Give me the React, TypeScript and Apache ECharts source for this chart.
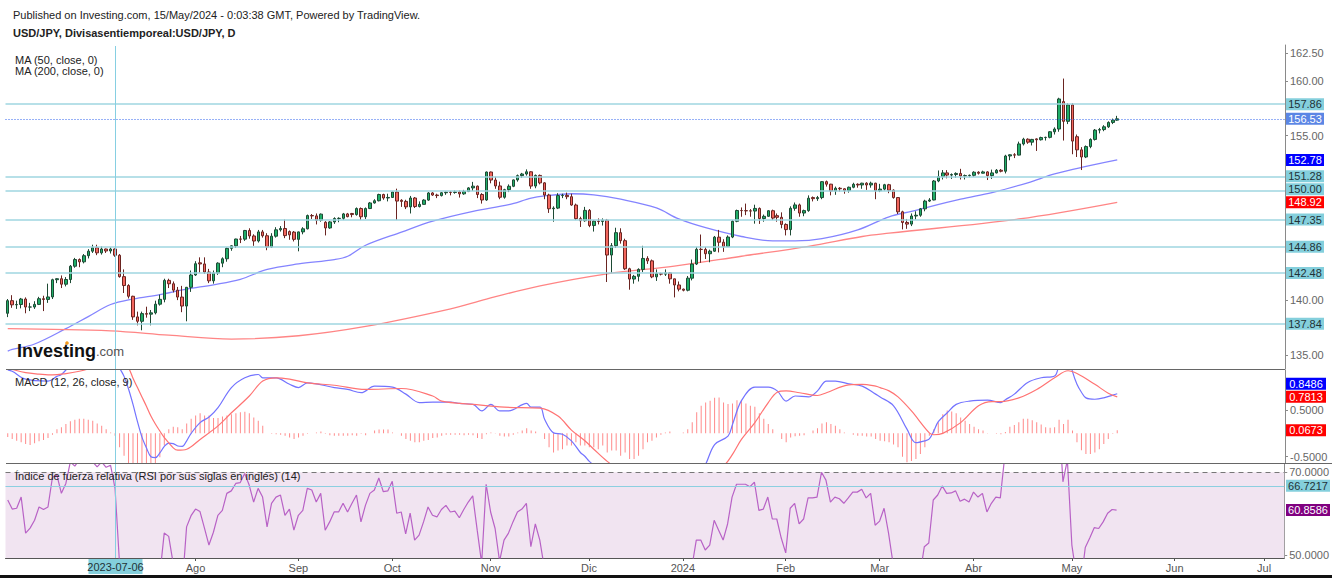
import React, { useEffect, useRef } from 'react';
import * as echarts from 'echarts';

// ---------- calendar / categories ----------
const FIRST_DAY = '2023-06-02';
const CATEGORY_COUNT = 286; // weekdays shown on the axis (data + empty future)
const MONTH_NAMES = ['2024', 'Feb', 'Mar', 'Abr', 'May', 'Jun', 'Jul', 'Ago', 'Sep', 'Oct', 'Nov', 'Dic'];
const FIRST_LABELLED = '2023-08-01';
const CROSSHAIR_DATE = '2023-07-06';

function weekdays(start: string, count: number): string[] {
  const out: string[] = [];
  const d = new Date(start + 'T00:00:00Z');
  while (out.length < count) {
    const wd = d.getUTCDay();
    if (wd !== 0 && wd !== 6) out.push(d.toISOString().slice(0, 10));
    d.setUTCDate(d.getUTCDate() + 1);
  }
  return out;
}
const DATES = weekdays(FIRST_DAY, CATEGORY_COUNT);

// ---------- price data: [open, close, low, high], from 2023-06-02 ----------
const OHLC: number[][] = [
  [138.80, 139.95, 138.45, 140.10],
  [139.95, 139.57, 139.30, 140.45], [139.57, 139.60, 139.20, 139.95], [139.60, 140.10, 139.25, 140.20], [140.10, 139.37, 138.80, 140.25], [139.37, 139.37, 139.00, 139.75],
  [139.37, 139.61, 139.20, 139.90], [139.61, 140.13, 139.55, 140.30], [140.13, 140.06, 139.00, 140.40], [140.06, 140.29, 139.75, 141.50], [140.29, 141.86, 140.10, 141.95],
  [141.86, 141.95, 141.55, 142.00], [141.95, 141.45, 141.10, 142.25], [141.45, 141.88, 141.25, 142.10], [141.88, 143.09, 141.55, 143.20], [143.09, 143.70, 142.95, 143.85],
  [143.70, 143.49, 143.00, 143.80], [143.49, 144.05, 143.35, 144.20], [144.05, 144.46, 143.80, 144.65], [144.46, 144.78, 144.30, 145.05], [144.78, 144.31, 144.10, 145.05],
  [144.31, 144.66, 144.15, 144.90], [144.66, 144.48, 144.30, 144.70], [144.48, 144.66, 144.25, 144.80], [144.66, 144.09, 143.95, 144.70], [144.09, 142.14, 142.05, 144.20],
  [142.14, 141.33, 140.65, 142.80], [141.33, 140.35, 140.15, 141.45], [140.35, 138.47, 138.20, 140.40], [138.47, 138.07, 137.70, 138.95], [138.07, 138.77, 137.25, 138.95],
  [138.77, 138.72, 138.40, 139.40], [138.72, 138.84, 137.70, 139.10], [138.84, 139.63, 138.70, 139.95], [139.63, 140.07, 139.50, 140.50], [140.07, 141.80, 139.80, 141.95],
  [141.80, 141.49, 141.10, 141.95], [141.49, 140.91, 140.70, 141.70], [140.91, 140.28, 140.00, 141.20], [140.28, 139.46, 138.90, 141.30], [139.46, 141.17, 138.07, 141.20],
  [141.17, 142.29, 140.75, 142.70], [142.29, 143.32, 142.20, 143.55], [143.40, 143.30, 142.50, 143.90], [143.30, 142.56, 142.40, 143.90], [142.56, 141.76, 141.55, 142.85],
  [141.76, 142.47, 141.50, 142.70], [142.47, 143.37, 142.30, 143.45], [143.37, 143.77, 143.00, 143.90], [143.77, 144.72, 143.50, 144.80], [144.72, 144.95, 144.50, 145.00],
  [144.95, 145.57, 144.75, 145.60], [145.57, 145.56, 145.20, 145.85], [145.56, 146.35, 145.40, 146.40], [146.35, 145.85, 145.60, 146.55], [145.85, 145.39, 144.95, 146.00],
  [145.39, 146.22, 145.25, 146.40], [146.22, 145.87, 145.70, 146.40], [145.87, 144.84, 144.55, 146.10], [144.84, 145.83, 144.75, 146.10], [145.83, 146.41, 145.70, 146.65],
  [146.41, 146.53, 146.25, 146.75], [146.53, 145.88, 145.65, 147.35], [146.25, 145.95, 145.50, 146.35], [146.20, 145.54, 145.35, 146.30], [145.54, 146.22, 144.45, 146.25],
  [146.22, 146.50, 146.00, 146.65], [146.50, 147.71, 146.45, 147.80], [147.71, 147.68, 147.40, 147.85], [147.68, 147.28, 146.90, 147.90], [147.28, 147.84, 147.15, 147.90],
  [147.10, 146.58, 145.90, 147.20], [146.58, 147.13, 146.50, 147.20], [147.13, 147.44, 146.95, 147.55], [147.44, 147.46, 147.10, 147.55], [147.46, 147.86, 147.30, 147.95],
  [147.86, 147.61, 147.55, 147.95], [147.90, 147.80, 147.55, 147.95], [147.80, 148.35, 147.70, 148.45], [148.35, 147.60, 147.30, 148.45], [147.60, 148.35, 147.40, 148.45],
  [148.35, 148.86, 148.30, 148.95], [148.86, 149.06, 148.80, 149.20], [149.06, 149.63, 149.00, 149.70], [149.63, 149.31, 149.15, 149.70], [149.31, 149.36, 149.00, 149.70],
  [149.36, 149.86, 149.35, 149.90], [149.86, 149.03, 147.30, 150.16], [149.10, 149.00, 148.50, 149.20], [149.00, 148.50, 148.30, 149.15], [148.50, 149.31, 147.90, 149.50],
  [149.31, 148.53, 148.40, 149.40], [148.53, 148.73, 148.45, 149.00], [148.73, 149.12, 148.70, 149.20], [149.12, 149.77, 149.05, 149.85], [149.77, 149.58, 149.50, 149.85],
  [149.58, 149.53, 149.30, 149.70], [149.53, 149.79, 149.45, 149.85], [149.79, 149.84, 149.60, 149.90], [149.84, 149.82, 149.55, 149.95], [149.82, 149.86, 149.70, 150.00],
  [149.86, 149.69, 149.35, 150.00], [149.69, 149.90, 149.60, 150.05], [149.90, 150.23, 149.85, 150.30], [150.23, 150.39, 149.95, 150.78], [150.39, 149.63, 149.30, 150.45],
  [149.63, 149.13, 148.80, 149.75], [149.13, 151.68, 149.05, 151.72], [151.68, 150.95, 150.65, 151.72], [150.95, 150.41, 150.15, 151.25], [150.41, 149.38, 149.20, 150.80],
  [149.38, 150.07, 149.25, 150.15], [150.07, 150.38, 149.85, 150.55], [150.38, 150.96, 150.30, 151.00], [150.96, 151.35, 150.80, 151.45], [151.35, 151.50, 151.15, 151.60],
  [151.50, 151.70, 151.35, 151.92], [151.70, 150.40, 150.15, 151.75], [150.40, 151.37, 150.20, 151.45], [151.37, 150.69, 150.55, 151.45], [150.69, 149.58, 149.20, 150.75],
  [149.58, 148.33, 147.95, 149.70], [148.33, 148.39, 147.15, 148.55], [148.39, 149.53, 148.30, 149.75], [149.53, 149.55, 149.30, 149.70], [149.55, 149.43, 149.20, 149.80],
  [149.43, 148.67, 148.60, 149.70], [148.67, 147.43, 147.30, 148.80], [147.43, 147.24, 146.67, 147.60], [147.24, 148.18, 147.15, 148.50], [148.18, 146.80, 146.65, 148.30],
  [146.80, 147.20, 146.25, 147.30], [147.20, 147.17, 146.90, 147.45], [147.17, 147.29, 146.80, 147.45], [147.29, 144.11, 141.65, 147.40], [144.11, 144.96, 142.50, 145.20],
  [144.96, 146.15, 144.75, 146.60], [146.15, 145.42, 145.15, 146.55], [145.42, 142.86, 142.75, 145.60], [142.86, 141.92, 140.95, 142.95], [141.92, 142.17, 141.50, 142.30],
  [142.17, 142.80, 141.70, 142.90], [142.80, 143.80, 142.55, 144.95], [143.80, 143.58, 143.30, 144.00], [143.58, 142.12, 142.00, 143.70], [142.12, 142.42, 141.75, 142.80],
  [142.42, 142.37, 142.25, 142.50], [142.37, 142.48, 142.20, 142.80], [142.48, 141.94, 141.50, 142.55], [141.94, 141.38, 140.25, 141.95], [141.38, 141.00, 140.80, 141.70],
  [141.00, 140.90, 140.80, 141.05], [140.90, 142.00, 140.80, 142.20], [142.00, 143.29, 141.80, 143.70], [143.29, 144.63, 143.20, 144.85], [144.63, 144.62, 143.40, 145.98],
  [144.62, 144.23, 143.75, 144.85], [144.23, 144.46, 143.45, 144.60], [144.46, 145.74, 144.40, 145.85], [145.74, 145.28, 144.35, 146.40], [145.28, 144.88, 144.40, 145.55],
  [144.88, 145.75, 144.85, 145.90], [145.75, 147.19, 145.65, 147.30], [147.19, 148.17, 147.10, 148.25], [148.17, 148.16, 147.60, 148.45], [148.16, 148.14, 147.75, 148.80],
  [148.14, 148.12, 147.60, 148.30], [148.12, 148.36, 146.97, 148.70], [148.36, 147.44, 146.95, 148.45], [147.44, 147.64, 147.15, 147.80], [147.64, 148.15, 147.60, 148.20],
  [148.15, 147.48, 147.30, 148.25], [147.70, 147.55, 147.15, 147.90], [147.55, 146.90, 146.55, 148.00], [146.90, 146.43, 145.90, 147.00], [146.43, 148.37, 145.90, 148.55],
  [148.37, 148.68, 148.15, 148.90], [148.68, 147.94, 147.60, 148.80], [147.94, 148.16, 147.65, 148.25], [148.16, 149.29, 148.05, 149.55], [149.35, 149.25, 149.00, 149.45],
  [149.25, 149.35, 149.05, 149.50], [149.35, 150.80, 149.20, 150.85], [150.80, 150.57, 150.35, 150.90], [150.57, 149.95, 149.55, 150.60], [149.95, 150.20, 149.60, 150.35],
  [150.20, 150.15, 149.90, 150.30], [150.15, 149.99, 149.70, 150.20], [149.99, 150.29, 149.80, 150.35], [150.29, 150.56, 150.20, 150.70], [150.56, 150.50, 150.25, 150.65],
  [150.50, 150.66, 150.15, 150.70], [150.66, 150.50, 150.05, 150.75], [150.50, 150.66, 150.25, 150.80], [150.66, 149.98, 149.20, 150.70], [149.98, 150.12, 149.85, 150.60],
  [150.12, 150.52, 150.00, 150.60], [150.52, 150.02, 149.75, 150.60], [150.02, 149.35, 149.25, 150.10], [149.35, 148.05, 147.85, 149.40], [148.05, 147.08, 146.45, 148.15],
  [147.08, 146.93, 146.50, 147.40], [146.93, 147.67, 146.75, 147.90], [147.67, 147.74, 147.35, 148.10], [147.74, 148.32, 147.60, 148.40], [148.32, 149.03, 148.10, 149.15],
  [149.03, 149.13, 148.95, 149.30], [149.13, 150.86, 149.10, 150.95], [150.86, 151.26, 150.75, 151.82], [151.26, 151.60, 151.00, 151.86], [151.60, 151.40, 151.10, 151.85],
  [151.40, 151.45, 151.05, 151.55], [151.45, 151.55, 151.15, 151.65], [151.55, 151.32, 151.00, 151.97], [151.32, 151.35, 151.00, 151.45], [151.35, 151.38, 151.20, 151.45],
  [151.38, 151.66, 151.25, 151.75], [151.66, 151.57, 151.45, 151.75], [151.57, 151.69, 151.55, 151.80], [151.69, 151.35, 150.95, 151.75], [151.35, 151.60, 151.05, 151.90],
  [151.60, 151.84, 151.55, 151.95], [151.84, 151.75, 151.65, 151.95], [151.75, 153.14, 151.55, 153.25], [153.14, 153.25, 152.75, 153.30], [153.25, 153.22, 152.95, 153.40],
  [153.22, 154.24, 153.20, 154.45], [154.24, 154.67, 154.10, 154.80], [154.67, 154.40, 154.25, 154.75], [154.40, 154.65, 154.10, 154.70], [154.70, 154.62, 153.60, 154.75],
  [154.62, 154.82, 154.55, 154.90], [154.82, 154.84, 154.55, 154.90], [154.84, 155.35, 154.75, 155.40], [155.35, 155.60, 155.10, 155.75], [155.60, 158.34, 155.35, 158.45],
  [158.10, 156.30, 154.55, 160.20], [156.30, 157.80, 156.05, 157.95], [157.80, 154.50, 153.30, 157.95], [154.90, 153.70, 153.05, 155.10], [153.70, 153.05, 151.86, 153.95],
  [153.05, 154.00, 152.95, 154.10], [154.00, 154.65, 153.85, 154.75], [154.65, 155.50, 154.55, 155.60], [155.50, 155.55, 155.20, 155.70], [155.55, 155.80, 155.40, 155.95],
  [155.80, 156.20, 155.70, 156.30], [156.20, 156.41, 156.05, 156.55], [156.41, 156.53, 156.35, 156.80],
];

// ---------- moving averages ----------
const MA50: [string, number][] = [
  ['2023-06-02', 135.35], ['2023-06-05', 135.5], ['2023-06-12', 136.0], ['2023-06-21', 137.4], ['2023-06-28', 138.5],
  ['2023-07-05', 139.6], ['2023-07-12', 140.1], ['2023-07-20', 140.5], ['2023-07-28', 141.0], ['2023-08-07', 141.4],
  ['2023-08-15', 141.9], ['2023-08-23', 142.8], ['2023-09-01', 143.3], ['2023-09-13', 143.7], ['2023-09-18', 144.0],
  ['2023-09-22', 145.0], ['2023-10-04', 146.2], ['2023-10-13', 147.2], ['2023-10-26', 148.1], ['2023-11-07', 148.7],
  ['2023-11-14', 149.3], ['2023-11-17', 149.5], ['2023-11-27', 149.7], ['2023-12-04', 149.6], ['2023-12-12', 149.2],
  ['2023-12-22', 148.4], ['2023-12-29', 147.4], ['2024-01-08', 146.6], ['2024-01-18', 145.8], ['2024-01-29', 145.4],
  ['2024-02-05', 145.4], ['2024-02-13', 145.6], ['2024-02-23', 146.4], ['2024-03-05', 147.6], ['2024-03-12', 148.1],
  ['2024-03-27', 149.2], ['2024-04-05', 149.8], ['2024-04-17', 150.7], ['2024-04-25', 151.5], ['2024-05-03', 152.1],
  ['2024-05-15', 152.78],
];
const MA200: [string, number][] = [
  ['2023-06-02', 137.4], ['2023-07-05', 137.2], ['2023-07-24', 136.8], ['2023-08-11', 136.45], ['2023-09-01', 136.75],
  ['2023-09-22', 137.6], ['2023-10-19', 139.2], ['2023-10-31', 140.1], ['2023-11-16', 141.3], ['2023-12-07', 142.4],
  ['2023-12-28', 143.1], ['2024-01-18', 144.0], ['2024-02-08', 144.9], ['2024-02-26', 145.8], ['2024-03-05', 146.1],
  ['2024-04-15', 147.4], ['2024-05-15', 148.92],
];

// ---------- MACD (12, 26, close, 9) ----------
const MACD_LINE: [string, number][] = [
  ['2023-06-02', 1.36], ['2023-06-05', 1.33], ['2023-06-08', 1.16], ['2023-06-15', 1.12], ['2023-06-19', 1.22], ['2023-06-20', 1.26],
  ['2023-06-22', 1.45], ['2023-06-27', 1.62], ['2023-06-30', 1.70], ['2023-07-04', 1.72], ['2023-07-06', 1.60], ['2023-07-07', 1.40],
  ['2023-07-10', 1.22], ['2023-07-11', 0.95], ['2023-07-12', 0.62], ['2023-07-13', 0.25], ['2023-07-14', -0.08], ['2023-07-17', -0.31],
  ['2023-07-18', -0.50], ['2023-07-19', -0.52], ['2023-07-20', -0.42], ['2023-07-21', -0.28], ['2023-07-24', -0.21], ['2023-07-25', -0.22],
  ['2023-07-26', -0.27], ['2023-07-27', -0.28], ['2023-07-28', -0.16], ['2023-07-31', 0.0], ['2023-08-02', 0.23], ['2023-08-04', 0.35],
  ['2023-08-08', 0.55], ['2023-08-11', 0.98], ['2023-08-16', 1.19], ['2023-08-21', 1.26], ['2023-08-22', 1.19], ['2023-08-25', 1.19],
  ['2023-08-30', 1.05], ['2023-09-01', 0.98], ['2023-09-05', 1.08], ['2023-09-13', 0.98], ['2023-09-18', 0.94], ['2023-09-21', 0.87],
  ['2023-09-26', 1.01], ['2023-10-02', 0.99], ['2023-10-05', 0.84], ['2023-10-10', 0.66], ['2023-10-13', 0.67], ['2023-10-19', 0.67],
  ['2023-10-23', 0.64], ['2023-10-26', 0.62], ['2023-10-30', 0.48], ['2023-11-01', 0.62], ['2023-11-03', 0.48], ['2023-11-07', 0.48],
  ['2023-11-13', 0.64], ['2023-11-14', 0.56], ['2023-11-16', 0.56], ['2023-11-17', 0.30], ['2023-11-21', 0.01], ['2023-11-23', -0.02],
  ['2023-11-27', -0.16], ['2023-11-29', -0.41], ['2023-11-30', -0.49], ['2023-12-01', -0.60], ['2023-12-05', -0.75], ['2023-12-08', -1.00],
  ['2023-12-13', -1.10], ['2023-12-18', -1.30], ['2023-12-25', -1.25], ['2024-01-01', -1.20], ['2024-01-04', -0.95], ['2024-01-08', -0.66],
  ['2024-01-10', -0.24], ['2024-01-15', -0.06], ['2024-01-16', 0.19], ['2024-01-18', 0.70], ['2024-01-23', 0.99], ['2024-01-26', 0.99],
  ['2024-01-30', 0.91], ['2024-02-01', 0.69], ['2024-02-05', 0.80], ['2024-02-08', 0.78], ['2024-02-12', 0.91], ['2024-02-14', 1.12],
  ['2024-02-16', 1.12], ['2024-02-21', 1.06], ['2024-02-26', 1.01], ['2024-02-29', 0.84], ['2024-03-01', 0.78], ['2024-03-06', 0.59],
  ['2024-03-11', 0.09], ['2024-03-13', -0.20], ['2024-03-15', -0.16], ['2024-03-18', -0.12], ['2024-03-19', 0.05], ['2024-03-20', 0.25],
  ['2024-03-22', 0.44], ['2024-03-26', 0.62], ['2024-03-29', 0.69], ['2024-04-04', 0.71], ['2024-04-09', 0.66], ['2024-04-10', 0.72],
  ['2024-04-12', 0.84], ['2024-04-17', 1.09], ['2024-04-22', 1.19], ['2024-04-25', 1.23], ['2024-04-26', 1.45], ['2024-04-29', 1.60],
  ['2024-04-30', 1.70], ['2024-05-01', 1.32], ['2024-05-02', 1.05], ['2024-05-03', 0.88], ['2024-05-06', 0.76], ['2024-05-08', 0.73],
  ['2024-05-10', 0.76], ['2024-05-14', 0.82], ['2024-05-15', 0.8486],
];
const SIGNAL_LINE: [string, number][] = [
  ['2023-06-02', 1.40], ['2023-06-05', 1.37], ['2023-06-08', 1.30], ['2023-06-13', 1.27], ['2023-06-16', 1.25], ['2023-06-21', 1.28],
  ['2023-06-26', 1.33], ['2023-06-28', 1.38], ['2023-06-30', 1.45], ['2023-07-05', 1.52], ['2023-07-07', 1.52], ['2023-07-10', 1.48],
  ['2023-07-11', 1.40], ['2023-07-12', 1.18], ['2023-07-13', 0.98], ['2023-07-14', 0.78], ['2023-07-17', 0.58], ['2023-07-18', 0.37],
  ['2023-07-19', 0.20], ['2023-07-20', 0.05], ['2023-07-21', -0.09], ['2023-07-25', -0.31], ['2023-07-26', -0.36], ['2023-07-28', -0.34],
  ['2023-08-02', -0.13], ['2023-08-08', 0.16], ['2023-08-11', 0.44], ['2023-08-17', 0.80], ['2023-08-22', 1.12], ['2023-08-25', 1.19],
  ['2023-08-30', 1.16], ['2023-09-05', 1.08], ['2023-09-13', 1.03], ['2023-09-22', 0.94], ['2023-10-04', 0.96], ['2023-10-13', 0.80],
  ['2023-10-17', 0.69], ['2023-10-26', 0.62], ['2023-11-06', 0.56], ['2023-11-16', 0.54], ['2023-11-22', 0.37], ['2023-11-27', 0.07],
  ['2023-11-30', -0.16], ['2023-12-04', -0.34], ['2023-12-07', -0.60], ['2023-12-12', -0.80], ['2023-12-18', -1.00], ['2023-12-25', -1.12],
  ['2024-01-01', -1.10], ['2024-01-08', -0.95], ['2024-01-12', -0.70], ['2024-01-16', -0.45], ['2024-01-18', -0.13], ['2024-01-23', 0.23],
  ['2024-01-26', 0.66], ['2024-01-30', 0.88], ['2024-02-01', 0.91], ['2024-02-06', 0.87], ['2024-02-12', 0.81], ['2024-02-14', 0.87],
  ['2024-02-21', 1.04], ['2024-02-26', 1.05], ['2024-02-29', 1.01], ['2024-03-01', 0.98], ['2024-03-05', 0.91], ['2024-03-07', 0.78],
  ['2024-03-12', 0.48], ['2024-03-18', 0.01], ['2024-03-19', -0.03], ['2024-03-21', 0.0], ['2024-03-27', 0.23], ['2024-04-02', 0.59],
  ['2024-04-05', 0.68], ['2024-04-09', 0.68], ['2024-04-15', 0.76], ['2024-04-19', 0.94], ['2024-04-25', 1.19], ['2024-04-30', 1.34],
  ['2024-05-02', 1.28], ['2024-05-08', 1.05], ['2024-05-13', 0.86], ['2024-05-15', 0.7813],
];
// histogram, one bar per day from 2023-06-02
const MACD_HIST: number[] = [
  -0.08,
  -0.12, -0.16, -0.19, -0.23, -0.25, -0.21, -0.17, -0.14, -0.10, -0.03,
  0.09, 0.13, 0.20, 0.26, 0.29, 0.31, 0.31, 0.29, 0.27, 0.21,
  0.16, 0.09, 0.02, -0.05, -0.30, -0.48, -0.70, -0.82, -0.88, -0.90,
  -0.86, -0.80, -0.70, -0.51, -0.26, 0.09, 0.14, 0.13, 0.09, 0.21,
  0.31, 0.38, 0.43, 0.38, 0.38, 0.33, 0.33, 0.36, 0.38, 0.41,
  0.43, 0.45, 0.46, 0.43, 0.34, 0.27, 0.16, 0.0, -0.01, -0.02,
  -0.03, -0.05, -0.09, -0.12, -0.09, -0.05, -0.01, 0.0, 0.02, 0.04,
  -0.01, -0.04, -0.05, -0.05, -0.05, -0.05, -0.04, -0.05, -0.01, -0.04,
  0.0, 0.06, 0.08, 0.08, 0.08, 0.02, 0.0, -0.05, -0.12, -0.16,
  -0.19, -0.19, -0.16, -0.14, -0.10, -0.09, -0.05, -0.03, -0.03, -0.03,
  -0.03, -0.04, -0.03, -0.04, -0.10, -0.12, -0.02, 0.02, 0.01, -0.05,
  -0.07, -0.07, -0.03, 0.02, 0.06, 0.11, 0.06, 0.04, 0.0, -0.12,
  -0.30, -0.41, -0.37, -0.34, -0.26, -0.26, -0.19, -0.26, -0.26, -0.30,
  -0.30, -0.34, -0.26, -0.41, -0.37, -0.37, -0.48, -0.41, -0.55, -0.55,
  -0.48, -0.34, -0.19, -0.16, -0.09, -0.03, 0.02, 0.04, 0.0, 0.0,
  0.02, 0.09, 0.24, 0.45, 0.59, 0.66, 0.70, 0.76, 0.77, 0.66,
  0.63, 0.64, 0.71, 0.70, 0.64, 0.59, 0.57, 0.43, 0.31, 0.20,
  0.09, 0.0, -0.12, -0.19, -0.09, -0.06, -0.05, -0.04, 0.0, 0.06,
  0.11, 0.21, 0.24, 0.20, 0.16, 0.09, 0.02, 0.0, -0.03, -0.05,
  -0.05, -0.07, -0.07, -0.12, -0.16, -0.17, -0.19, -0.24, -0.30, -0.50,
  -0.62, -0.59, -0.55, -0.44, -0.30, -0.05, 0.09, 0.24, 0.41, 0.49,
  0.47, 0.43, 0.34, 0.27, 0.20, 0.14, 0.09, 0.06, 0.01, 0.0,
  -0.01, -0.02, 0.03, 0.14, 0.18, 0.24, 0.31, 0.31, 0.28, 0.24,
  0.19, 0.13, 0.12, 0.13, 0.29, 0.20, 0.29, 0.06, -0.19, -0.36,
  -0.44, -0.44, -0.41, -0.34, -0.23, -0.12, -0.01, 0.0673,
];

// ---------- RSI (14), one value per day from 2023-06-02 ----------
const RSI: number[] = [
  63.3,
  61.1, 61.3, 64.0, 55.3, 56.5, 58.4, 61.6, 61.0, 61.6, 68.8,
  69.3, 64.9, 67.3, 72.5, 71.5, 73.0, 74.0, 73.0, 72.5, 71.3,
  72.5, 71.2, 71.7, 66.1, 48.0, 44.0, 40.0, 34.0, 33.0, 37.0,
  37.0, 38.0, 42.0, 45.0, 55.3, 54.5, 48.0, 45.0, 42.0, 56.8,
  59.5, 61.1, 60.5, 56.5, 52.4, 55.5, 59.6, 60.8, 64.9, 65.5,
  67.3, 67.5, 69.7, 66.9, 62.8, 66.1, 64.0, 56.8, 62.5, 64.0,
  64.5, 59.6, 61.1, 56.0, 59.6, 60.8, 66.1, 65.7, 62.8, 64.9,
  56.0, 58.0, 60.4, 60.4, 62.5, 60.4, 62.5, 64.5, 58.0, 62.0,
  64.9, 65.7, 68.6, 65.3, 65.5, 67.8, 60.1, 60.4, 55.1, 60.1,
  53.6, 54.8, 58.0, 61.6, 59.6, 59.2, 61.0, 62.0, 60.4, 60.6,
  59.0, 61.0, 62.8, 64.3, 56.0, 48.0, 67.1, 60.4, 56.4, 48.5,
  53.6, 55.3, 58.0, 60.4, 61.1, 62.5, 52.0, 57.5, 53.6, 47.0,
  42.0, 42.0, 47.0, 47.5, 47.0, 44.0, 40.0, 39.0, 44.0, 38.0,
  40.0, 40.0, 41.0, 31.0, 35.0, 41.0, 39.0, 32.0, 30.0, 31.0,
  34.0, 38.0, 38.0, 34.0, 35.0, 35.0, 35.5, 34.0, 32.0, 31.0,
  31.0, 40.0, 47.0, 53.6, 53.6, 51.2, 52.4, 58.4, 56.0, 53.6,
  57.5, 64.0, 67.1, 67.1, 67.1, 66.5, 67.6, 60.8, 61.1, 64.0,
  58.7, 58.7, 54.1, 50.5, 61.3, 62.5, 57.5, 58.7, 63.8, 63.8,
  64.0, 70.0, 68.1, 62.8, 64.0, 63.6, 62.5, 63.8, 65.2, 65.2,
  65.9, 63.8, 64.9, 57.2, 58.2, 61.3, 55.3, 48.0, 40.0, 36.0,
  35.0, 40.0, 41.0, 45.0, 52.0, 52.9, 63.3, 64.5, 66.7, 64.9,
  65.0, 65.5, 63.0, 63.5, 62.8, 65.2, 64.0, 64.9, 60.4, 62.5,
  64.0, 63.8, 74.0, 74.0, 74.0, 78.0, 79.0, 77.0, 78.0, 77.5,
  78.0, 78.0, 80.0, 80.5, 86.0, 67.7, 73.0, 52.4, 45.0, 43.0,
  51.8, 54.1, 56.6, 56.4, 58.0, 60.1, 61.0, 60.8586,
];

// ---------- levels and axis settings ----------
const PRICE_LEVELS = [157.86, 151.28, 150.0, 147.35, 144.86, 142.48, 137.84];
const RSI_LEVEL = 66.7217;
const RSI_OVERBOUGHT = 70;
const PRICE_TICKS = [135, 137.5, 140, 142.5, 145, 147.5, 150, 152.5, 155, 157.5, 160, 162.5];
const PRICE_TICK_LABELS = [135, 140, 155, 160, 162.5]; // the others sit under the value boxes
const MACD_TICKS = [-0.5, 0.5];
const RSI_TICKS = [50, 70];
const PRICE_RANGE = [133.72, 163.26];
const MACD_RANGE = [-0.635, 1.3565];
const RSI_RANGE = [49.27, 72.0];

const FONT = 'Arial, "Liberation Sans", Helvetica, sans-serif';
const TEAL = '#84cfdc';
const TEAL_LINE = '#9fd6e1';
const CROSS_COLOR = '#86cfe2';
const LAST_PRICE_COLOR = '#2f62ee';
const UP = '#1fae68';
const DOWN = '#f2665d';

function isMonthStart(i: number): boolean {
  if (i <= 0) return false;
  return DATES[i].slice(5, 7) !== DATES[i - 1].slice(5, 7) && DATES[i] >= FIRST_LABELLED;
}

export default function App() {
  const ref = useRef<HTMLDivElement>(null);
  useEffect(() => {
    if (!ref.current) return;
    const chart = echarts.init(ref.current, undefined, { renderer: 'svg' });
    const grids = [
      { left: 5.5, right: 47, top: 45, height: 324 },
      { left: 5.5, right: 47, top: 370, height: 93 },
      { left: 5.5, right: 47, top: 464, height: 94 },
    ];
    const xAxis = [0, 1, 2].map((g) => ({
      type: 'category',
      gridIndex: g,
      data: DATES,
      boundaryGap: true,
      axisLine: { show: g === 2, lineStyle: { color: '#555', width: 1 } },
      axisTick: {
        show: g === 2,
        alignWithLabel: true,
        length: 3,
        interval: (i: number) => isMonthStart(i),
        lineStyle: { color: '#555' },
      },
      axisLabel: {
        show: g === 2,
        interval: (i: number) => isMonthStart(i),
        formatter: (v: string) => MONTH_NAMES[parseInt(v.slice(5, 7), 10) - 1],
        color: '#555',
        fontSize: 11,
        fontFamily: FONT,
        margin: 4,
      },
      splitLine: { show: false },
    }));
    const yAx = (g: number, range: number[], ticks: number[], labels: number[], digits: number) => ({
      type: 'value',
      gridIndex: g,
      position: 'right',
      min: range[0],
      max: range[1],
      splitLine: { show: false },
      axisLine: { show: true, lineStyle: { color: '#8a8a8a' } },
      axisTick: { show: true, length: 3, customValues: ticks, lineStyle: { color: '#8a8a8a' } },
      axisLabel: {
        customValues: labels,
        formatter: (v: number) => v.toFixed(digits),
        color: '#666',
        fontSize: 11,
        fontFamily: FONT,
        margin: 5,
      },
    });
    const lastClose = OHLC[OHLC.length - 1][1];

    const option: any = {
      animation: false,
      backgroundColor: '#ffffff',
      grid: grids,
      xAxis,
      yAxis: [
        yAx(0, PRICE_RANGE, PRICE_TICKS, PRICE_TICK_LABELS, 2),
        yAx(1, MACD_RANGE, MACD_TICKS, MACD_TICKS, 4),
        yAx(2, RSI_RANGE, RSI_TICKS, RSI_TICKS, 4),
      ],
      series: [
        {
          type: 'candlestick',
          name: 'USD/JPY',
          xAxisIndex: 0,
          yAxisIndex: 0,
          data: OHLC,
          barWidth: 3,
          itemStyle: {
            color: UP,
            color0: DOWN,
            borderColor: '#1d4a34',
            borderColor0: '#6a2421',
            borderWidth: 1,
          },
          markLine: {
            silent: true,
            symbol: ['none', 'none'],
            label: { show: false },
            data: PRICE_LEVELS.map((v) => ({ yAxis: v, lineStyle: { color: TEAL_LINE, width: 1.5, type: 'solid' } })),
          },
          z: 3,
        },
        {
          type: 'line', name: 'MA50', xAxisIndex: 0, yAxisIndex: 0, data: MA50, showSymbol: false, smooth: 0.35,
          lineStyle: { color: '#8484ff', width: 1.3 }, z: 2,
        },
        {
          type: 'line', name: 'MA200', xAxisIndex: 0, yAxisIndex: 0, data: MA200, showSymbol: false, smooth: 0.35,
          lineStyle: { color: '#ff8585', width: 1.3 }, z: 2,
        },
        {
          type: 'bar', name: 'Histogram', xAxisIndex: 1, yAxisIndex: 1, data: MACD_HIST, barWidth: 1,
          itemStyle: { color: '#ff8a8a' },
        },
        {
          type: 'line', name: 'MACD', xAxisIndex: 1, yAxisIndex: 1, data: MACD_LINE, showSymbol: false, smooth: 0.35,
          lineStyle: { color: '#7373ff', width: 1.2 },
        },
        {
          type: 'line', name: 'Signal', xAxisIndex: 1, yAxisIndex: 1, data: SIGNAL_LINE, showSymbol: false, smooth: 0.35,
          lineStyle: { color: '#ff7373', width: 1.2 },
        },
        {
          type: 'line', name: 'RSI', xAxisIndex: 2, yAxisIndex: 2, data: RSI, showSymbol: false,
          lineStyle: { color: '#b862c6', width: 1.2 },
          markArea: {
            silent: true,
            itemStyle: { color: '#f1e4f1' },
            data: [[{ yAxis: RSI_RANGE[0] }, { yAxis: RSI_OVERBOUGHT }]],
          },
          markLine: {
            silent: true,
            symbol: ['none', 'none'],
            label: { show: false },
            data: [
              { yAxis: RSI_OVERBOUGHT, lineStyle: { color: '#777', width: 1, type: [5, 4] } },
              { yAxis: RSI_LEVEL, lineStyle: { color: '#8ccfe0', width: 1, type: 'solid' } },
            ],
          },
        },
      ],
    };
    chart.setOption(option);

    // ----- value boxes on the right-hand scale -----
    type Lbl = { v: number; fill: string; color: string; digits: number };
    const panels: { axis: number; width: number; items: Lbl[] }[] = [
      {
        axis: 0, width: 38,
        items: [
          ...PRICE_LEVELS.map((v) => ({ v, fill: TEAL, color: '#1f3237', digits: 2 })),
          { v: lastClose, fill: '#5b86e5', color: '#fff', digits: 2 },
          { v: MA50[MA50.length - 1][1], fill: '#0000ff', color: '#fff', digits: 2 },
          { v: MA200[MA200.length - 1][1], fill: '#ff0000', color: '#fff', digits: 2 },
        ],
      },
      {
        axis: 1, width: 40,
        items: [
          { v: MACD_LINE[MACD_LINE.length - 1][1], fill: '#0000ff', color: '#fff', digits: 4 },
          { v: SIGNAL_LINE[SIGNAL_LINE.length - 1][1], fill: '#ff0000', color: '#fff', digits: 4 },
          { v: MACD_HIST[MACD_HIST.length - 1], fill: '#ff0000', color: '#fff', digits: 4 },
        ],
      },
      {
        axis: 2, width: 44,
        items: [
          { v: RSI_LEVEL, fill: TEAL, color: '#1f3237', digits: 4 },
          { v: RSI[RSI.length - 1], fill: '#800080', color: '#fff', digits: 4 },
        ],
      },
    ];
    const H = 12;
    const axisX = 1286;
    const boxes: any[] = [];
    panels.forEach((p) => {
      const placed = p.items
        .map((it) => ({ ...it, y: chart.convertToPixel({ yAxisIndex: p.axis }, it.v) as number }))
        .sort((a, b) => a.y - b.y);
      for (let i = placed.length - 2; i >= 0; i--) {
        if (placed[i].y > placed[i + 1].y - (H + 1)) placed[i].y = placed[i + 1].y - (H + 1);
      }
      placed.forEach((it) => {
        boxes.push({
          type: 'rect', z: 100,
          shape: { x: axisX, y: it.y - H / 2, width: p.width, height: H },
          style: { fill: it.fill },
        });
        boxes.push({
          type: 'text', z: 101,
          style: {
            text: it.v.toFixed(it.digits), x: axisX + p.width / 2, y: it.y,
            fill: it.color, fontSize: 11, fontFamily: FONT,
            textAlign: 'center', textVerticalAlign: 'middle',
          },
        });
      });
    });

    // crosshair and last-price line, positioned through the axes
    const crossX = Math.round(chart.convertToPixel({ xAxisIndex: 2 }, CROSSHAIR_DATE) as number) + 0.5;
    const lastY = Math.round(chart.convertToPixel({ yAxisIndex: 0 }, lastClose) as number) + 0.5;
    const plotLeft = 5.5;
    const plotRight = 1285;

    const txt = (text: string, x: number, y: number, size: number, weight = 'normal', fill = '#222') => ({
      type: 'text', z: 50,
      style: { text, x, y, fill, fontSize: size, fontWeight: weight, fontFamily: FONT, textVerticalAlign: 'middle' },
    });
    const hline = (y: number, x1: number, x2: number, color: string, w = 1) => ({
      type: 'line', z: 60, shape: { x1, y1: y, x2, y2: y }, style: { stroke: color, lineWidth: w },
    });

    const statics: any[] = [
      txt('Published on Investing.com, 15/May/2024 - 0:03:38 GMT, Powered by TradingView.', 13, 15, 11),
      txt('USD/JPY, Divisasentiemporeal:USD/JPY, D', 13, 33, 11, 'bold'),
      txt('MA (50, close, 0)', 15, 60, 11),
      txt('MA (200, close, 0)', 15, 71, 11),
      txt('MACD (12, 26, close, 9)', 15, 382, 11),
      txt('Índice de fuerza relativa (RSI por sus siglas en inglés) (14)', 15, 476, 11),
      {
        type: 'text', z: 50,
        style: {
          text: '{a|Investing}{b|.com}', x: 17, y: 351, textVerticalAlign: 'middle',
          rich: {
            a: { fontSize: 18, fontWeight: 'bold', fontFamily: FONT, fill: '#111', color: '#111' },
            b: { fontSize: 13, fontFamily: FONT, fill: '#555', color: '#555' },
          },
        },
      },
      { type: 'circle', z: 51, shape: { cx: 67, cy: 343, r: 1.8 }, style: { fill: '#f49b1c' } },
      {
        type: 'line', z: 40,
        shape: { x1: crossX, y1: 46, x2: crossX, y2: 558 },
        style: { stroke: CROSS_COLOR, lineWidth: 1 },
      },
      {
        type: 'line', z: 40,
        shape: { x1: plotLeft, y1: lastY, x2: plotRight, y2: lastY },
        style: { stroke: LAST_PRICE_COLOR, lineWidth: 1, lineDash: [1, 2] },
      },
      hline(369.5, 6, 1285, '#666'),
      hline(463.5, 6, 1332, '#666'),
      { type: 'rect', z: 60, shape: { x: 0, y: 575, width: 1332, height: 3 }, style: { fill: '#111' } },
      { type: 'rect', z: 100, shape: { x: crossX - 27, y: 559, width: 54, height: 15 }, style: { fill: TEAL } },
      {
        type: 'text', z: 101,
        style: {
          text: CROSSHAIR_DATE, x: crossX, y: 566.5, fill: '#1f3237', fontSize: 11, fontFamily: FONT,
          textAlign: 'center', textVerticalAlign: 'middle',
        },
      },
    ];
    chart.setOption({ graphic: { elements: [...statics, ...boxes] } });

    return () => chart.dispose();
  }, []);

  return (
    <div
      ref={ref}
      style={{ position: 'absolute', left: 0, top: 0, width: 1332, height: 578, background: '#fff' }}
    />
  );
}
